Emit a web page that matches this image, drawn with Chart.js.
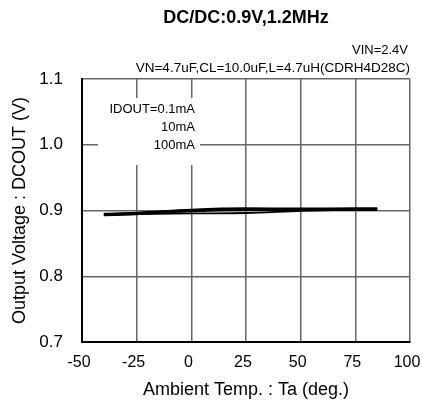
<!DOCTYPE html>
<html>
<head>
<meta charset="utf-8">
<script src="https://cdn.jsdelivr.net/npm/chart.js@4"></script>
<style>
  html, body { margin: 0; padding: 0; background: #fff; }
  #wrap { width: 422px; height: 407px; }
</style>
</head>
<body>
<div id="wrap"><canvas id="vChart" width="422" height="407"></canvas></div>
<script>
// ================= DATA =================
const temps = [-40, -25, 0, 25, 50, 75, 85];
const vout01mA = [0.8943, 0.896, 0.9005, 0.9025, 0.9023, 0.9025, 0.9025];
const vout10mA = [0.8935, 0.8952, 0.8995, 0.9015, 0.9015, 0.9017, 0.9017];
const vout100mA = [0.8937, 0.8945, 0.8955, 0.8962, 0.8995, 0.9015, 0.902];
const xTicks = [-50, -25, 0, 25, 50, 75, 100];
const yTicks = [0.7, 0.8, 0.9, 1.0, 1.1];
const legendLines = ["IDOUT=0.1mA", "10mA", "100mA"];

const FONT = "Liberation Sans, Arial, sans-serif";

function pts(vals) {
  return temps.map((t, i) => ({ x: t, y: vals[i] }));
}

// ================= TEXT / BOX PLUGIN =================
const notes = {
  id: "notes",
  beforeDatasetsDraw(chart) {
    // white box hiding the grid behind the current labels
    const { ctx } = chart;
    ctx.save();
    ctx.fillStyle = "#fff";
    ctx.fillRect(98, 98, 102, 67);
    ctx.restore();
  },
  afterDraw(chart) {
    const { ctx, chartArea } = chart;
    ctx.save();
    ctx.fillStyle = "#000";
    ctx.textBaseline = "middle";

    ctx.font = "bold 18px " + FONT;
    ctx.textAlign = "center";
    ctx.fillText("DC/DC:0.9V,1.2MHz", (chartArea.left + chartArea.right) / 2, 18);

    ctx.font = "13px " + FONT;
    ctx.textAlign = "right";
    ctx.fillText("VIN=2.4V", chartArea.right - 2, 50);
    ctx.font = "13.5px " + FONT;
    ctx.fillText("VN=4.7uF,CL=10.0uF,L=4.7uH(CDRH4D28C)", chartArea.right, 68);

    ctx.font = "13px " + FONT;
    legendLines.forEach((s, i) => ctx.fillText(s, 195, 109 + i * 18));
    ctx.restore();
  }
};

// ================= CHART =================
const line = (label, data, w) => ({
  label,
  data: pts(data),
  borderColor: "#000",
  borderWidth: w,
  pointRadius: 0,
  cubicInterpolationMode: "monotone",
  fill: false
});

new Chart(document.getElementById("vChart"), {
  type: "line",
  data: {
    datasets: [
      line("0.1mA", vout01mA, 3),
      line("10mA", vout10mA, 3),
      line("100mA", vout100mA, 1.8)
    ]
  },
  options: {
    responsive: false,
    animation: false,
    layout: { padding: { top: 79, right: 12, left: 0, bottom: 0 } },
    plugins: { legend: { display: false }, tooltip: { enabled: false } },
    scales: {
      x: {
        type: "linear",
        min: -50,
        max: 100,
        afterBuildTicks: (s) => { s.ticks = xTicks.map(v => ({ value: v })); },
        afterFit: (s) => { s.height = 65; s.paddingLeft = 0; s.paddingRight = 0; },
        grid: { color: "#666", lineWidth: 1.5, drawTicks: false },
        border: { color: "#000", width: 2 },
        ticks: { color: "#000", padding: 11, labelOffset: -3, font: { family: FONT, size: 16 } },
        title: {
          display: true,
          text: "Ambient Temp. : Ta (deg.)",
          color: "#000",
          font: { family: FONT, size: 18 },
          padding: { top: 4, bottom: 6 }
        }
      },
      y: {
        min: 0.7,
        max: 1.1,
        afterBuildTicks: (s) => { s.ticks = yTicks.map(v => ({ value: v })); },
        afterFit: (s) => { s.width = 82; s.paddingTop = 0; s.paddingBottom = 0; },
        grid: { color: "#666", lineWidth: 1.5, drawTicks: false },
        border: { color: "#000", width: 2 },
        ticks: {
          color: "#000",
          padding: 19,
          font: { family: FONT, size: 17 },
          callback: (v) => Number(v).toFixed(1)
        },
        title: {
          display: true,
          text: "Output Voltage : DCOUT (V)",
          color: "#000",
          font: { family: FONT, size: 18 },
          padding: { top: 9, bottom: 0 }
        }
      }
    }
  },
  plugins: [notes]
});
</script>
</body>
</html>
